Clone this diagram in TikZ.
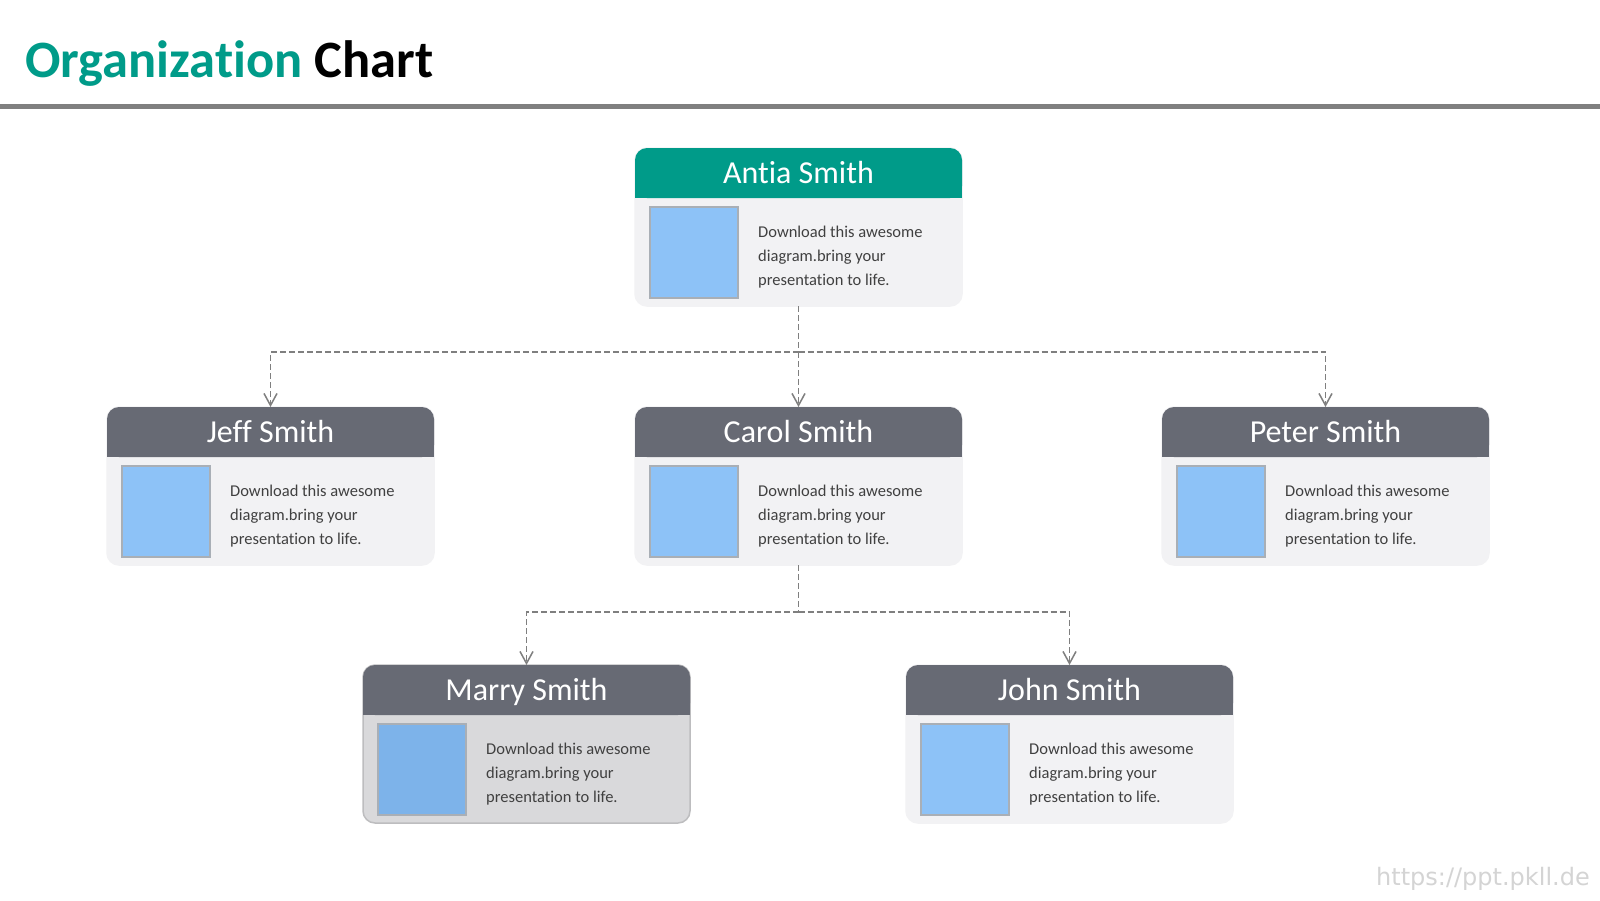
\documentclass[tikz,border=0pt]{standalone}
\usepackage{fontspec}
\setmainfont{Carlito}[Ligatures={NoCommon}]
\newfontfamily\wmfont{DejaVu Sans}
\usetikzlibrary{arrows.meta,calc}
\definecolor{tealc}{HTML}{009B89}
\definecolor{headgray}{HTML}{676A74}
\definecolor{bodyc}{HTML}{F2F2F4}
\definecolor{bodydark}{HTML}{D9D9DB}
\definecolor{borderc}{HTML}{BDBDBF}
\definecolor{photoc}{HTML}{8DC2F7}
\definecolor{photodark}{HTML}{7DB3EA}
\definecolor{photoborder}{HTML}{A9AFB6}
\definecolor{textc}{HTML}{404040}
\definecolor{connc}{HTML}{7F7F7F}
\definecolor{rulec}{HTML}{808080}
\definecolor{wmc}{HTML}{D4D4D4}
\tikzset{
  cardbody/.style={rectangle, rounded corners=12pt, minimum width=327pt, minimum height=158pt, inner sep=0pt, outer sep=0pt, line width=1.5pt},
  cardhead/.style={rectangle, rounded corners=12pt, minimum width=327pt, minimum height=50pt, inner sep=0pt, outer sep=0pt},
  nametext/.style={text=white, font=\fontsize{32}{38}\selectfont, inner sep=0pt},
  photo/.style={rectangle, minimum width=88pt, minimum height=91pt, inner sep=0pt, outer sep=0pt, draw=photoborder, line width=1.5pt},
  desc/.style={text=textc, font=\fontsize{16.5}{24}\selectfont, align=left, inner sep=0pt},
  conn/.style={draw=connc, line width=1.5pt, dash pattern=on 6pt off 3pt},
  arr/.style={conn, -{Straight Barb[length=12pt,width=13pt,line width=1.5pt]}},
}
\newcommand\orgcard[9]{%
  \node[cardbody, fill=#5, draw=#6, anchor=north west] (#1) at (#2,#3) {};
  \node[cardhead, fill=#4, anchor=north] (#1-h) at (#1.north) {};
  \fill[#4] (#1-h.west) rectangle (#1-h.south east);
  \node[nametext, anchor=base] (#1-n) at ($(#1-h.center)+(0,10.5)$) {#7};
  \node[photo, fill=#8, anchor=north west] (#1-p) at ($(#1.north west)+(15,59)$) {};
  \node[desc, anchor=west] (#1-d) at ($(#1.north west)+(123,109)$) {Download this awesome\\diagram.bring your\\presentation to life.};
}
\begin{document}
\begin{tikzpicture}[x=1pt,y=-1pt]
\fill[white] (0,0) rectangle (1600,900);
\useasboundingbox (0,0) rectangle (1600,900);
\node[anchor=base west, inner sep=0pt, font=\fontsize{52.5}{60}\selectfont\bfseries] (title) at (25,77) {\textcolor{tealc}{Organization} Chart};
\coordinate (ruleL) at (0,106.5);
\coordinate (ruleR) at (1600,106.5);
\draw[rulec, line width=5pt] (ruleL) -- (ruleR);

\orgcard{antia}{635}{148}{tealc}{bodyc}{bodyc}{Antia Smith}{photoc}{}
\orgcard{jeff}{107}{407}{headgray}{bodyc}{bodyc}{Jeff Smith}{photoc}{}
\orgcard{carol}{635}{407}{headgray}{bodyc}{bodyc}{Carol Smith}{photoc}{}
\orgcard{peter}{1162}{407}{headgray}{bodyc}{bodyc}{Peter Smith}{photoc}{}
\orgcard{marry}{363}{665}{headgray}{bodydark}{borderc}{Marry Smith}{photodark}{}
\orgcard{john}{906}{665}{headgray}{bodyc}{bodyc}{John Smith}{photoc}{}

\coordinate (bus1) at ($(antia.south)+(0,46)$);
\coordinate (bus2) at ($(carol.south)+(0,47)$);
\draw[conn] (antia.south) -- (bus1);
\draw[arr] (bus1) -| (jeff.north);
\draw[arr] (bus1) -| (peter.north);
\draw[arr] (bus1) -- (carol.north);
\draw[conn] (carol.south) -- (bus2);
\draw[arr] (bus2) -| (marry.north);
\draw[arr] (bus2) -| (john.north);

\node[anchor=base east, inner sep=0pt, text=wmc, font=\wmfont\fontsize{24}{28}\selectfont] (wm) at (1590,885) {https://ppt.pkll.de};
\end{tikzpicture}
\end{document}
